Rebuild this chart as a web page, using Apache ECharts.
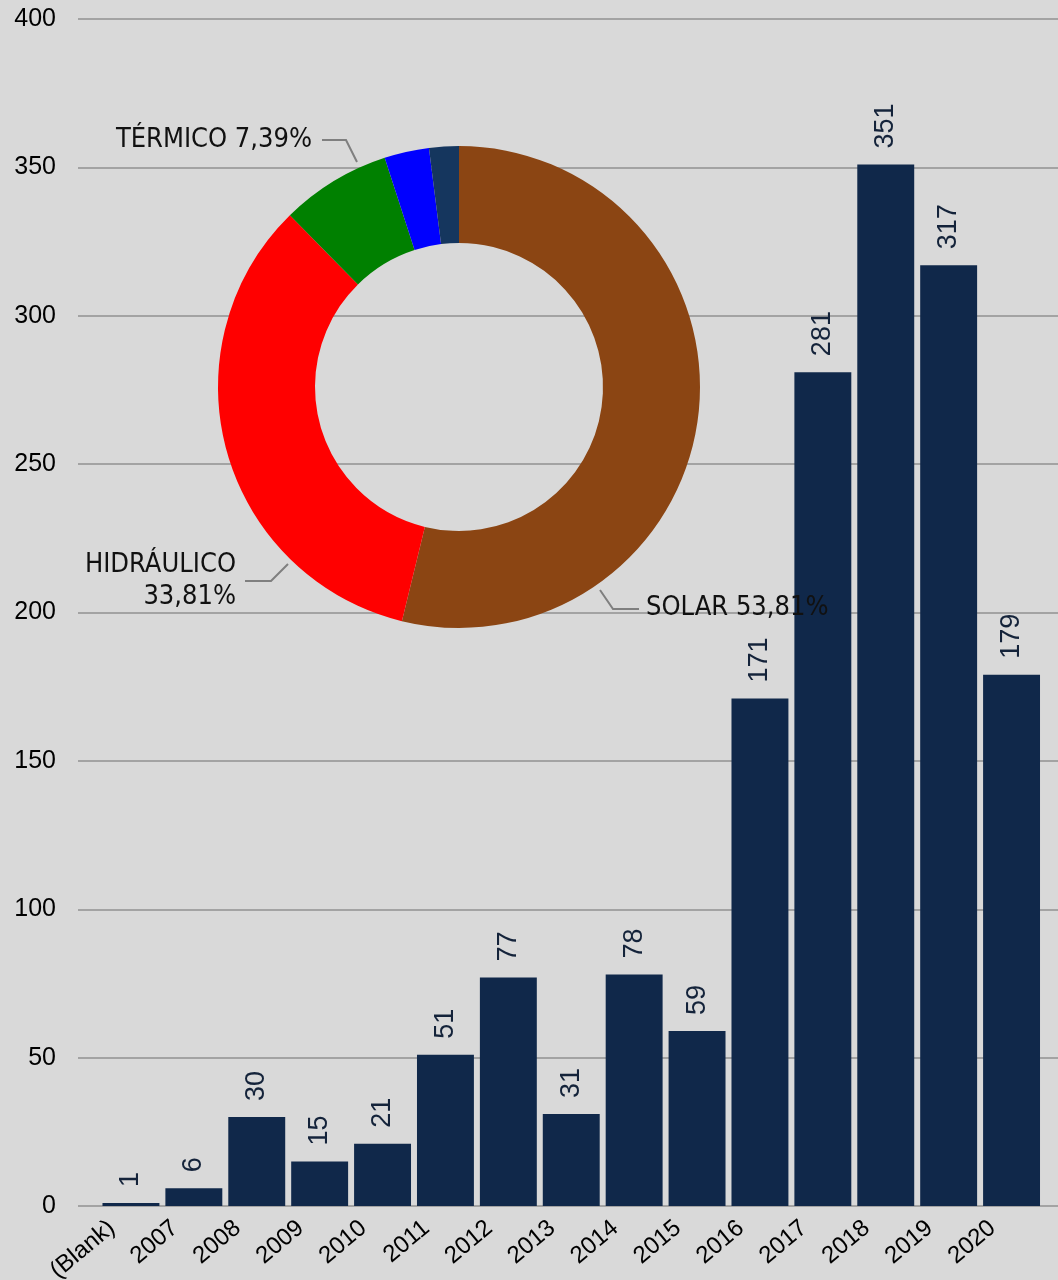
<!DOCTYPE html>
<html>
<head>
<meta charset="utf-8">
<title>Proyectos por año y tecnología</title>
<script src="https://cdn.jsdelivr.net/npm/echarts@6/dist/echarts.min.js"></script>
<style>
  html, body { margin: 0; padding: 0; background: #d9d9d9; }
  #chart { width: 1058px; height: 1280px; }
</style>
</head>
<body>
<div id="chart"></div>
<script>
// datos de barras
var years = ["(Blank)", "2007", "2008", "2009", "2010", "2011", "2012", "2013",
  "2014", "2015", "2016", "2017", "2018", "2019", "2020"];
var counts = [1, 6, 30, 15, 21, 51, 77, 31, 78, 59, 171, 281, 351, 317, 179];

// datos de la dona (porcentaje por tecnología)
var techNames = ["SOLAR", "HIDRÁULICO", "TÉRMICO", "EÓLICO", "OTROS"];
var techShares = [53.81, 33.81, 7.39, 3.00, 1.99];
var techColors = ["#8b4513", "#ff0000", "#008000", "#0000ff", "#15365e"];

// eje y
var yMin = 0, yMax = 400, yStep = 50;

var pieCenter = [459, 387];
var pieRadius = [144, 241];

// posiciones de etiquetas de la dona (relativas al centro)
var pieLabelSpots = {
  0: { x: 187, y: 221, align: "left", line: [[141, 203], [154, 222], [180, 222]] },
  1: { x: -223, y: 194, align: "right", line: [[-171, 177], [-188, 194], [-214, 194]] },
  2: { x: -147, y: -247, align: "right", line: [[-102, -225], [-113, -247], [-137, -247]] }
};

// desplazamiento de las etiquetas del eje x (estilo Excel: esquina superior derecha en el tick)
var xLabelShift = 19;

function pct(v) {
  return v.toFixed(2).replace(".", ",") + "%";
}

var chart = echarts.init(document.getElementById("chart"));

var pieData = techNames.map(function (n, i) {
  var item = { name: n, value: techShares[i], itemStyle: { color: techColors[i] } };
  if (i > 2) {
    item.label = { show: false };
    item.labelLine = { show: false };
  }
  return item;
});

chart.setOption({
  backgroundColor: "#d9d9d9",
  animation: false,
  grid: [
    { left: 78, right: 0, top: 19, bottom: 74, outerBoundsMode: "none", containLabel: false },
    { left: 99.5, right: 15, top: 19, bottom: 74, outerBoundsMode: "none", containLabel: false },
    { left: 99.5 - xLabelShift, right: 15 + xLabelShift, top: 19, bottom: 74, outerBoundsMode: "none", containLabel: false }
  ],
  xAxis: [
    { type: "value", gridIndex: 0, show: false, min: 0, max: 1 },
    {
      type: "category",
      gridIndex: 1,
      data: years,
      axisLine: { show: false },
      axisTick: { show: false },
      axisLabel: { show: false }
    },
    {
      type: "category",
      gridIndex: 2,
      data: years,
      axisLine: { show: false },
      axisTick: { show: false },
      axisLabel: {
        rotate: 40,
        margin: 19,
        interval: 0,
        color: "#000",
        fontFamily: "Liberation Sans",
        fontSize: 24
      }
    }
  ],
  yAxis: [
    {
      type: "value",
      gridIndex: 0,
      min: yMin,
      max: yMax,
      interval: yStep,
      axisLine: { show: false },
      axisTick: { show: false },
      axisLabel: {
        margin: 22,
        color: "#000",
        fontFamily: "Liberation Sans",
        fontSize: 25
      },
      splitLine: { lineStyle: { color: "#a3a3a3", width: 2 } }
    },
    {
      type: "value",
      gridIndex: 1,
      min: yMin,
      max: yMax,
      interval: yStep,
      show: false,
      splitLine: { show: false }
    },
    {
      type: "value",
      gridIndex: 2,
      min: yMin,
      max: yMax,
      interval: yStep,
      show: false,
      splitLine: { show: false }
    }
  ],
  series: [
    {
      type: "bar",
      xAxisIndex: 1,
      yAxisIndex: 1,
      data: counts,
      barCategoryGap: "9.5%",
      itemStyle: { color: "#10284a" },
      label: {
        show: true,
        position: "top",
        distance: 16,
        rotate: 90,
        align: "left",
        verticalAlign: "middle",
        color: "#14233a",
        fontFamily: "Liberation Sans",
        fontSize: 27
      }
    },
    {
      type: "pie",
      center: pieCenter,
      radius: pieRadius,
      startAngle: 90,
      clockwise: true,
      data: pieData,
      itemStyle: { borderWidth: 0 },
      label: {
        show: true,
        position: "outside",
        color: "#111",
        fontFamily: "DejaVu Sans Condensed",
        fontSize: 27,
        lineHeight: 32,
        formatter: function (p) {
          if (p.dataIndex === 1) {
            return p.name + "\n" + pct(p.value);
          }
          return p.name + " " + pct(p.value);
        }
      },
      labelLine: {
        show: true,
        length: 15,
        length2: 25,
        lineStyle: { color: "#7f7f7f", width: 2 }
      },
      labelLayout: function (params) {
        var s = pieLabelSpots[params.dataIndex];
        if (!s) {
          return {};
        }
        var cx = pieCenter[0], cy = pieCenter[1];
        return {
          x: cx + s.x,
          y: cy + s.y,
          align: s.align,
          verticalAlign: "middle",
          labelLinePoints: s.line.map(function (pt) {
            return [cx + pt[0], cy + pt[1]];
          })
        };
      }
    }
  ]
});
</script>
</body>
</html>
